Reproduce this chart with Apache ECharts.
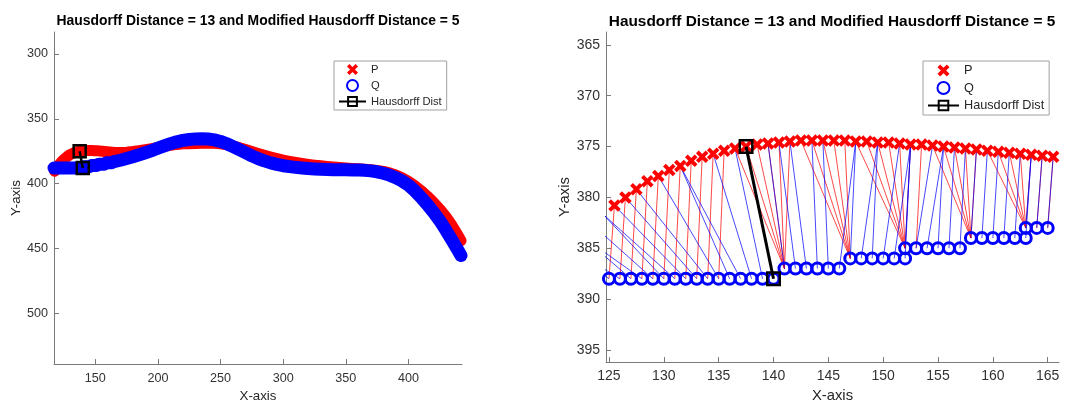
<!DOCTYPE html>
<html>
<head>
<meta charset="utf-8">
<script src="https://cdn.jsdelivr.net/npm/echarts@6/dist/echarts.min.js"></script>
<style>
  html, body { margin: 0; background: #fff; }
  #chart { width: 1072px; height: 408px; }
</style>
</head>
<body>
<div id="chart"></div>
<script>
const titleText = 'Hausdorff Distance = 13 and Modified Hausdorff Distance = 5';

// curve P (red crosses)
const pX = [
  117.5, 118.5, 119.5, 120.5, 121.5, 122.5, 123.5, 124.5, 125.5, 126.5,
  127.5, 128.5, 129.5, 130.5, 131.5, 132.5, 133.5, 134.5, 135.5, 136.5,
  137.5, 138.5, 139.5, 140.5, 141.5, 142.5, 143.5, 144.5, 145.5, 146.5,
  147.5, 148.5, 149.5, 150.5, 151.5, 152.5, 153.5, 154.5, 155.5, 156.5,
  157.5, 158.5, 159.5, 160.5, 161.5, 162.5, 163.5, 164.5, 165.5,
  170, 175, 180, 185, 190, 195, 200, 205, 210, 215, 220, 225, 230, 235, 240,
  245, 250, 255, 260, 265, 270, 275, 280, 285, 290, 295, 300, 305, 310, 315,
  320, 325, 330, 335, 340, 345, 350, 355, 360, 365, 370, 375, 380, 385, 390,
  395, 400, 405, 410, 415, 420, 425, 430, 435, 440, 442
];
const pY = [
  390.5, 389.0, 387.6, 386.3, 385.0, 383.8, 382.7, 381.7, 380.8, 380.0,
  379.2, 378.4, 377.9, 377.3, 376.9, 376.4, 376.0, 375.7, 375.4, 375.2,
  375.0, 374.8, 374.7, 374.6, 374.5, 374.4, 374.4, 374.4, 374.4, 374.4,
  374.5, 374.5, 374.6, 374.6, 374.7, 374.8, 374.8, 374.9, 375.0, 375.1,
  375.2, 375.3, 375.4, 375.5, 375.6, 375.7, 375.8, 375.9, 376.0,
  376.0, 375.8, 375.3, 374.6, 373.8, 373.0, 372.2, 371.3, 370.5, 369.8, 369.3, 369.2, 369.0, 368.8, 368.7,
  368.9, 369.3, 370.0, 371.0, 372.3, 373.8, 375.3, 376.8, 378.2, 379.5, 380.7, 381.8, 382.8, 383.7, 384.5,
  385.2, 385.8, 386.3, 386.8, 387.2, 387.6, 388.0, 388.3, 388.6, 388.9, 389.3, 389.8, 390.6, 391.8, 393.4,
  395.5, 398.2, 401.5, 405.3, 409.6, 414.3, 419.5, 425.5, 432.5, 440.5, 444.0
];

// curve Q (blue circles)
const qX = [
  117, 118, 119, 120, 121, 122, 123, 124, 125, 126, 127, 128, 129, 130, 131, 132,
  133, 134, 135, 136, 137, 138, 139, 140,
  141, 142, 143, 144, 145, 146,
  147, 148, 149, 150, 151, 152,
  152, 153, 154, 155, 156, 157,
  158, 159, 160, 161, 162, 163,
  163, 164, 165,
  170, 175, 180, 185, 190, 195, 200, 205, 210, 215, 220, 225, 230, 235, 240,
  245, 250, 255, 260, 265, 270, 275, 280, 285, 290, 295, 300, 305, 310, 315,
  320, 325, 330, 335, 340, 345, 350, 355, 360, 365, 370, 375, 380, 385, 390,
  395, 400, 405, 410, 415, 420, 425, 430, 435, 440, 442
];
const qY = [
  388, 388, 388, 388, 388, 388, 388, 388, 388, 388, 388, 388, 388, 388, 388, 388,
  388, 388, 388, 388, 388, 388, 388, 388,
  387, 387, 387, 387, 387, 387,
  386, 386, 386, 386, 386, 386,
  385, 385, 385, 385, 385, 385,
  384, 384, 384, 384, 384, 384,
  383, 383, 383,
  382.0, 380.7, 379.3, 377.8, 376.2, 374.5, 372.7, 370.9, 369.2, 367.8, 366.7, 366.0, 365.6, 365.5, 365.6,
  366.3, 367.5, 369.3, 371.5, 373.8, 376.2, 378.6, 380.7, 382.5, 384.0, 385.2, 386.2, 386.9, 387.5, 388.0,
  388.4, 388.7, 389.0, 389.2, 389.3, 389.4, 389.4, 389.5, 389.6, 389.8, 390.2, 390.9, 392.0, 393.5, 395.5,
  398.0, 401.2, 405.5, 410.5, 416.0, 422.0, 428.5, 436.0, 444.0, 452.0, 455.5
];

// pair giving the Hausdorff distance
const hdX = [137.5, 140];
const hdY = [375, 388];

const fullXTicks = [150, 200, 250, 300, 350, 400];
const fullYTicks = [300, 350, 400, 450, 500];
const zoomXTicks = [125, 130, 135, 140, 145, 150, 155, 160, 165];
const zoomYTicks = [365, 370, 375, 380, 385, 390, 395];

const P = pX.map((x, i) => [x, pY[i]]);
const Q = qX.map((x, i) => [x, qY[i]]);
const HD = hdX.map((x, i) => [x, hdY[i]]);

// each point joined to its nearest point on the other curve
function nearestLinks(from, to) {
  return from.map(a => {
    let best = to[0], bd = Infinity;
    for (const b of to) {
      const d = (a[0] - b[0]) ** 2 + (a[1] - b[1]) ** 2;
      if (d < bd) { bd = d; best = b; }
    }
    return { coords: [a, best] };
  });
}

const AXIS_COLOR = '#7a7a7a';
const TEXT_COLOR = '#333';
const CROSS = 'path://M2.2,0 L5,2.8 L7.8,0 L10,2.2 L7.2,5 L10,7.8 L7.8,10 L5,7.2 L2.2,10 L0,7.8 L2.8,5 L0,2.2 Z';

function xAxis(gi, min, max, ticks, fs, nameFs, margin, nameGap) {
  return {
    gridIndex: gi, type: 'value', min, max, position: 'bottom',
    axisLine: { onZero: false, lineStyle: { color: AXIS_COLOR, width: 1 } },
    axisTick: { inside: true, length: 5, customValues: ticks, lineStyle: { color: AXIS_COLOR } },
    axisLabel: { customValues: ticks, color: TEXT_COLOR, fontSize: fs, margin },
    splitLine: { show: false },
    name: 'X-axis', nameLocation: 'middle', nameGap,
    nameTextStyle: { color: '#262626', fontSize: nameFs }
  };
}

function yAxis(gi, min, max, ticks, fs, nameFs, nameGap) {
  return {
    gridIndex: gi, type: 'value', min, max, inverse: true, position: 'left',
    axisLine: { onZero: false, lineStyle: { color: AXIS_COLOR, width: 1 } },
    axisTick: { inside: true, length: 5, customValues: ticks, lineStyle: { color: AXIS_COLOR } },
    axisLabel: { customValues: ticks, color: TEXT_COLOR, fontSize: fs, margin: 6 },
    splitLine: { show: false },
    name: 'Y-axis', nameLocation: 'middle', nameGap,
    nameTextStyle: { color: '#262626', fontSize: nameFs }
  };
}

function legend(left, iw, ih, fs) {
  return {
    left, top: 61, orient: 'vertical', selectedMode: false,
    itemWidth: iw, itemHeight: ih, itemGap: 4,
    padding: [3, 5, 3, 4],
    borderColor: '#a0a0a0', borderWidth: 1, backgroundColor: '#fff',
    textStyle: { fontSize: fs, color: '#262626', lineHeight: ih },
    data: ['P', 'Q', 'Hausdorff Dist']
  };
}

const chart = echarts.init(document.getElementById('chart'));
chart.setOption({
  animation: false,
  textStyle: { fontFamily: '"Liberation Sans", Arial, sans-serif' },
  title: [
    { text: titleText, left: 258, top: 14, textAlign: 'center', padding: 0,
      textStyle: { fontSize: 13.9, fontWeight: 'bold', color: '#000' } },
    { text: titleText, left: 832, top: 14, textAlign: 'center', padding: 0,
      textStyle: { fontSize: 15.4, fontWeight: 'bold', color: '#000' } }
  ],
  legend: [legend(334, 27, 11, 11.2), legend(923, 31, 12, 12.7)],
  grid: [
    { left: 54, top: 32, width: 408, height: 334 },
    { left: 606, top: 32, width: 453, height: 334 }
  ],
  xAxis: [
    xAxis(0, 117, 442.8, fullXTicks, 12.6, 13.3, 8, 25),
    xAxis(1, 124.73, 166.03, zoomXTicks, 14, 14.8, 7, 24)
  ],
  yAxis: [
    yAxis(0, 283.1, 539.2, fullYTicks, 12.6, 13.3, 30),
    yAxis(1, 363.73, 396.2, zoomYTicks, 14, 14.8, 34)
  ],
  series: [
    // zoomed view
    { name: 'P', type: 'scatter', xAxisIndex: 1, yAxisIndex: 1, data: P, z: 3,
      symbol: CROSS, symbolSize: 12.5, itemStyle: { color: '#ff0000', opacity: 1 } },
    { name: 'Q', type: 'scatter', xAxisIndex: 1, yAxisIndex: 1, data: Q, z: 3,
      symbol: 'circle', symbolSize: 11,
      itemStyle: { color: 'rgba(0,0,0,0)', borderColor: '#0000ff', borderWidth: 3, opacity: 1 } },
    { name: 'Hausdorff Dist', type: 'line', xAxisIndex: 1, yAxisIndex: 1, data: HD, z: 5,
      symbol: 'rect', symbolSize: 12.5, showSymbol: true,
      lineStyle: { color: '#000', width: 3 },
      itemStyle: { color: 'rgba(0,0,0,0)', borderColor: '#000', borderWidth: 2.5 } },
    { name: 'P links', type: 'lines', coordinateSystem: 'cartesian2d', xAxisIndex: 1, yAxisIndex: 1,
      clip: true, silent: true, z: 1, data: nearestLinks(P, Q),
      lineStyle: { color: '#ff0000', width: 0.8, opacity: 0.9 } },
    { name: 'Q links', type: 'lines', coordinateSystem: 'cartesian2d', xAxisIndex: 1, yAxisIndex: 1,
      clip: true, silent: true, z: 1, data: nearestLinks(Q, P),
      lineStyle: { color: '#0000ff', width: 0.8, opacity: 0.9 } },
    // full view: markers so dense they merge into bands
    { name: 'P', type: 'line', xAxisIndex: 0, yAxisIndex: 0, data: P, z: 2, clip: false,
      showSymbol: false, lineStyle: { color: '#ff0000', width: 11, cap: 'round', join: 'round' } },
    { name: 'Q', type: 'line', xAxisIndex: 0, yAxisIndex: 0, data: Q, z: 2.5, clip: false,
      showSymbol: false, lineStyle: { color: '#0000ff', width: 13, cap: 'round', join: 'round' } },
    { name: 'Hausdorff Dist', type: 'line', xAxisIndex: 0, yAxisIndex: 0, data: HD, z: 5,
      symbol: 'rect', symbolSize: 12, showSymbol: true,
      lineStyle: { color: '#000', width: 2.5 },
      itemStyle: { color: 'rgba(0,0,0,0)', borderColor: '#000', borderWidth: 2.5 } }
  ]
});
</script>
</body>
</html>
